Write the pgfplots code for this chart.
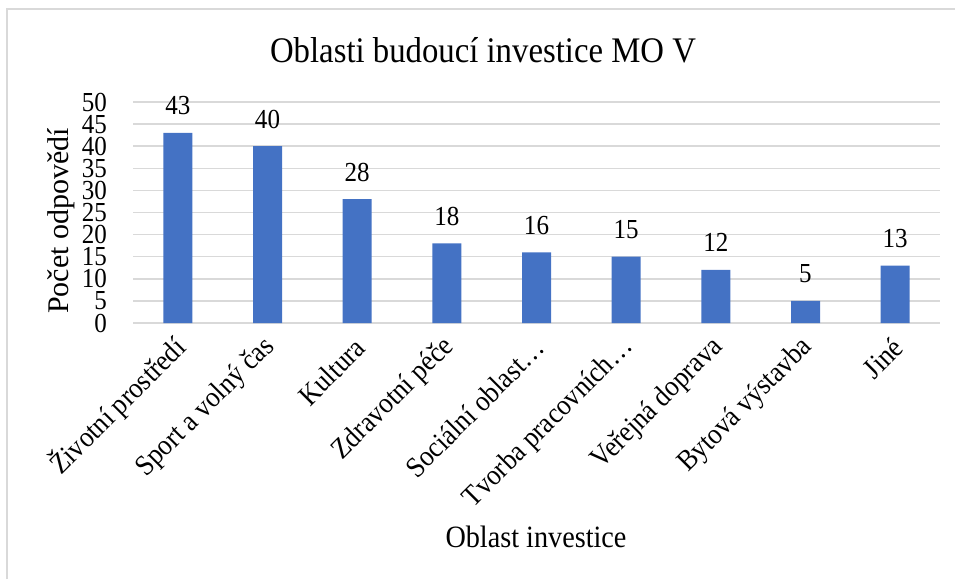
\documentclass[border=0pt]{standalone}
\usepackage{fontspec}
\setmainfont{Liberation Serif}[FakeStretch=0.91]
\newfontfamily\yfont{Liberation Serif}
\usepackage{pgfplots}
\pgfplotsset{compat=1.18}
\definecolor{barblue}{HTML}{4472C4}
\definecolor{gridgray}{HTML}{D9D9D9}
\begin{document}
\begin{tikzpicture}[x=1pt,y=1pt]
\path[use as bounding box] (0,0) rectangle (955,579);
\draw[gridgray, line width=2pt] (7,0) -- (7,570) -- (955,570);
\node[font=\fontsize{36}{36}\selectfont, inner sep=0] at (483,529) {Oblasti budoucí investice MO V};
\node[font=\fontsize{31}{31}\selectfont, inner sep=0] at (536,42) {Oblast investice};
\node[font=\yfont\fontsize{30}{30}\selectfont, inner sep=0, rotate=90] at (61,358) {Počet odpovědí};
\begin{axis}[
  at={(133pt,256pt)}, anchor=south west,
  scale only axis, width=807pt, height=221pt,
  xmin=-0.5, xmax=8.5, ymin=0, ymax=50,
  ytick={0,5,...,50},
  xtick={0,...,8},
  xticklabels={Životní prostředí, Sport a volný čas, Kultura, Zdravotní péče, Sociální oblast…, Tvorba pracovních…, Veřejná doprava, Bytová výstavba, Jiné},
  ybar, bar width=29pt,
  ymajorgrids, grid style={gridgray, line width=1.5pt},
  axis line style={draw=none},
  major tick length=0pt,
  /pgf/number format/assume math mode=true,
  yticklabel style={font=\fontsize{27.5}{27.5}\selectfont, anchor=east, inner sep=0pt, xshift=-26pt},
  xticklabel style={font=\fontsize{29}{29}\selectfont, xshift=3pt, yshift=-20pt, rotate=45, anchor=east, inner sep=0pt},
  nodes near coords,
  every node near coord/.append style={font=\fontsize{27.5}{27.5}\selectfont, anchor=base, inner sep=0pt, yshift=18pt, text=black},
]
\addplot[fill=barblue, draw=none] coordinates {(0,43) (1,40) (2,28) (3,18) (4,16) (5,15) (6,12) (7,5) (8,13)};
\end{axis}
\end{tikzpicture}
\end{document}
